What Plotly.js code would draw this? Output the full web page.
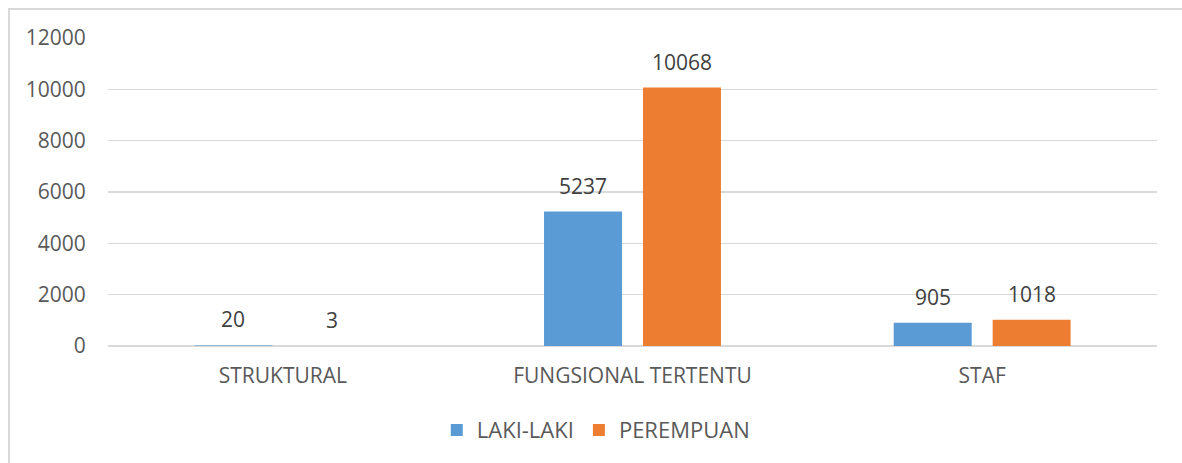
<!DOCTYPE html>
<html>
<head>
<meta charset="utf-8">
<script src="https://cdn.plot.ly/plotly-3.0.1.min.js"></script>
<style>
  html, body { margin: 0; padding: 0; background: #ffffff; }
  #frame { position: absolute; left: 8px; top: 8px; width: 1400px; height: 700px; border: 2px solid #d9d9d9; box-sizing: border-box; }
  #chart { position: absolute; left: 0; top: 0; width: 1182px; height: 463px; }
</style>
</head>
<body>
<div id="frame"></div>
<div id="chart"></div>
<script>
const categories = ['STRUKTURAL', 'FUNGSIONAL TERTENTU', 'STAF'];
const lakiLaki = [20, 5237, 905];
const perempuan = [3, 10068, 1018];
const seriesNames = ['LAKI-LAKI', 'PEREMPUAN'];
const yTicks = [0, 2000, 4000, 6000, 8000, 10000, 12000];

const colors = ['#5b9bd5', '#ed7d31'];
const FONT = 'Open Sans, Liberation Sans, sans-serif';

const traces = [lakiLaki, perempuan].map((vals, i) => ({
  type: 'bar',
  name: seriesNames[i],
  x: categories,
  y: vals,
  marker: { color: colors[i] },
  hoverinfo: 'x+y+name'
}));

const slot = 99; // px between grouped bar centers
const annotations = [];
[lakiLaki, perempuan].forEach((vals, i) => {
  vals.forEach((v, j) => {
    annotations.push({
      x: categories[j], y: v, xref: 'x', yref: 'y',
      text: String(v), showarrow: false,
      yanchor: 'bottom', yshift: 10,
      xshift: (i - 0.5) * slot,
      font: { family: FONT, size: 21, color: '#404040' }
    });
  });
});

const layout = {
  width: 1182, height: 463,
  margin: { l: 108, r: 25, t: 38, b: 117 },
  paper_bgcolor: 'rgba(0,0,0,0)',
  plot_bgcolor: 'rgba(0,0,0,0)',
  barmode: 'group',
  bargap: 0.434,
  bargroupgap: 0.212,
  font: { family: FONT, size: 21, color: '#595959' },
  xaxis: {
    type: 'category',
    showgrid: false, showline: false, zeroline: false,
    ticks: 'outside', ticklen: 11, tickcolor: 'rgba(0,0,0,0)',
    tickfont: { family: FONT, size: 21, color: '#595959' }
  },
  yaxis: {
    range: [0, 12000],
    tickvals: yTicks,
    ticktext: yTicks.map(String),
    showgrid: true, gridcolor: '#d9d9d9', gridwidth: 1.5,
    zeroline: true, zerolinecolor: '#d9d9d9', zerolinewidth: 1.5,
    showline: false,
    ticks: 'outside', ticklen: 17, tickcolor: 'rgba(0,0,0,0)',
    tickfont: { family: FONT, size: 21, color: '#595959' }
  },
  showlegend: true,
  legend: {
    orientation: 'h', x: 0.465, xanchor: 'center', y: -0.273, yanchor: 'middle',
    font: { family: FONT, size: 22, color: '#595959' },
    itemwidth: 30, tracegroupgap: 0
  },
  annotations: annotations
};

Plotly.newPlot('chart', traces, layout, { displayModeBar: false, staticPlot: true });
</script>
</body>
</html>
